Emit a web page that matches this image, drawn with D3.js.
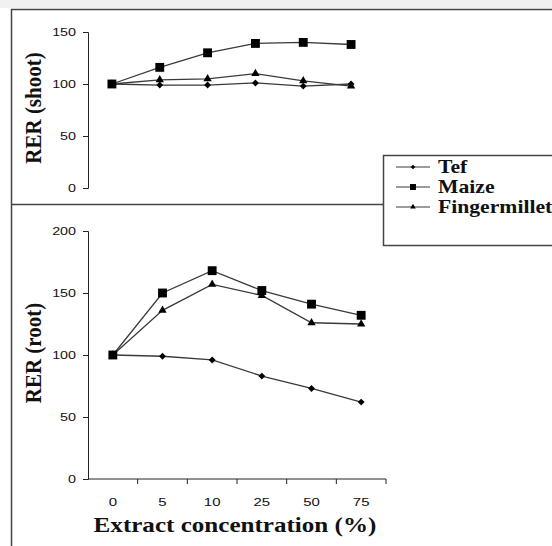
<!DOCTYPE html>
<html>
<head>
<meta charset="utf-8">
<script src="https://cdn.jsdelivr.net/npm/d3@7"></script>
<style>
  body { margin: 0; background: #fff; }
  svg { display: block; }
</style>
</head>
<body>
<svg width="552" height="546"></svg>
<script>
// DATA ////////////////////////////////////////////////////////////////////////
const concentrations = ['0', '5', '10', '25', '50', '75'];
const seriesNames = ['Tef', 'Maize', 'Fingermillet'];

const shootTef = [100, 99, 99, 101, 98, 100];
const shootMaize = [100, 116, 130, 139, 140, 138];
const shootFinger = [100, 104, 105, 110, 103, 98];

const rootTef = [100, 99, 96, 83, 73, 62];
const rootMaize = [100, 150, 168, 152, 141, 132];
const rootFinger = [100, 136, 157, 148, 126, 125];

const shootTicks = [0, 50, 100, 150];
const rootTicks = [0, 50, 100, 150, 200];

// SET PARAMETERS //////////////////////////////////////////////////////////////
const svg = d3.select('svg');
const symbols = {
  Tef: d3.symbolDiamond2,
  Maize: d3.symbolSquare2,
  Fingermillet: d3.symbolTriangle2
};
const symSize = { Tef: 30, Maize: 100, Fingermillet: 50 };
const lineColor = '#3a3a3a';
const serif = "'Liberation Serif', 'DejaVu Serif', serif";
const sans = "'Liberation Sans', Arial, sans-serif";
// the source picture is a bit stretched sideways
const stretch = 1.14;

// widen a text horizontally by k
function widen(sel, k) {
  sel.each(function() {
    const w = this.getComputedTextLength();
    d3.select(this)
      .attr('textLength', w * k)
      .attr('lengthAdjust', 'spacingAndGlyphs');
  });
}

// page frame
svg.append('rect').attr('x', 0).attr('y', 0).attr('width', 552).attr('height', 8)
  .attr('fill', '#f1f1f1');
svg.append('line').attr('x1', 11).attr('x2', 552).attr('y1', 9.5).attr('y2', 9.5)
  .attr('stroke', '#444').attr('stroke-width', 1.5);
svg.append('line').attr('x1', 11.5).attr('x2', 11.5).attr('y1', 9).attr('y2', 546)
  .attr('stroke', '#444').attr('stroke-width', 1.5);
svg.append('line').attr('x1', 11).attr('x2', 383).attr('y1', 204.5).attr('y2', 204.5)
  .attr('stroke', '#444').attr('stroke-width', 1.5);

// DRAW ///////////////////////////////////////////////////////////////////////
function panel(opts) {
  const x = d3.scaleBand().domain(concentrations).range(opts.xRange);
  const y = d3.scaleLinear().domain([0, opts.yMax]).range(opts.yRange);
  const g = svg.append('g');

  // y axis
  g.append('g')
    .attr('transform', `translate(${opts.xRange[0]},0)`)
    .call(d3.axisLeft(y).tickValues(opts.ticks).tickSize(5).tickPadding(7))
    .call(a => a.select('.domain').attr('stroke', '#222'))
    .call(a => a.selectAll('.tick line').attr('stroke', '#222'))
    .call(a => a.selectAll('text').style('font', `11px ${sans}`).attr('fill', '#111')
      .call(widen, 1.3));

  if (opts.xAxis) {
    const xa = g.append('g')
      .attr('transform', `translate(0,${opts.yRange[0]})`);
    xa.append('line')
      .attr('x1', opts.xRange[0]).attr('x2', opts.xRange[1])
      .attr('stroke', '#222');
    // ticks between categories (excel style)
    xa.selectAll('.tk')
      .data(concentrations)
      .enter()
      .append('line')
      .attr('x1', d => x(d) + x.bandwidth())
      .attr('x2', d => x(d) + x.bandwidth())
      .attr('y1', 0).attr('y2', 5)
      .attr('stroke', '#222');
    xa.selectAll('text')
      .data(concentrations)
      .enter()
      .append('text')
      .attr('x', d => x(d) + x.bandwidth() / 2)
      .attr('y', 27)
      .attr('text-anchor', 'middle')
      .style('font', `11.5px ${sans}`)
      .attr('fill', '#111')
      .text(d => d)
      .call(widen, 1.3);
  }

  const line = d3.line()
    .x((d, i) => x(concentrations[i]) + x.bandwidth() / 2)
    .y(d => y(d));

  opts.series.forEach(s => {
    g.append('path')
      .datum(s.values)
      .attr('fill', 'none')
      .attr('stroke', lineColor)
      .attr('stroke-width', 1.3)
      .attr('d', line);
  });
  opts.series.forEach(s => {
    g.selectAll(null)
      .data(s.values)
      .enter()
      .append('path')
      .attr('transform', (d, i) =>
        `translate(${x(concentrations[i]) + x.bandwidth() / 2},${y(d)})`)
      .attr('d', d3.symbol(symbols[s.name], symSize[s.name]))
      .attr('fill', '#000');
  });

  // y title
  g.append('text')
    .attr('transform',
      `translate(${opts.titleX},${opts.titleY}) rotate(-90) scale(1,${stretch})`)
    .attr('text-anchor', 'middle')
    .attr('dy', '0.35em')
    .style('font', `bold 21px ${serif}`)
    .attr('fill', '#111')
    .text(opts.title);
}

panel({
  xRange: [88, 375],
  yRange: [188, 32],
  yMax: 150,
  ticks: shootTicks,
  xAxis: false,
  title: 'RER (shoot)',
  titleX: 33,
  titleY: 108,
  series: [
    { name: 'Tef', values: shootTef },
    { name: 'Maize', values: shootMaize },
    { name: 'Fingermillet', values: shootFinger }
  ]
});

panel({
  xRange: [88, 386],
  yRange: [479, 231],
  yMax: 200,
  ticks: rootTicks,
  xAxis: true,
  title: 'RER (root)',
  titleX: 33,
  titleY: 353,
  series: [
    { name: 'Tef', values: rootTef },
    { name: 'Maize', values: rootMaize },
    { name: 'Fingermillet', values: rootFinger }
  ]
});

// x title
svg.append('text')
  .attr('x', 235)
  .attr('y', 532)
  .attr('text-anchor', 'middle')
  .style('font', `bold 22px ${serif}`)
  .attr('fill', '#111')
  .text('Extract concentration (%)')
  .call(widen, stretch);

// legend
const legend = svg.append('g');
legend.append('rect')
  .attr('x', 383.5).attr('y', 155.5)
  .attr('width', 180).attr('height', 90)
  .attr('fill', '#fff')
  .attr('stroke', '#444')
  .attr('stroke-width', 1.5);

const ly = d3.scalePoint().domain(seriesNames).range([167, 207]);
const li = legend.selectAll('.item')
  .data(seriesNames)
  .enter()
  .append('g')
  .attr('transform', d => `translate(0,${ly(d)})`);
li.append('line')
  .attr('x1', 396).attr('x2', 430)
  .attr('stroke', lineColor).attr('stroke-width', 1.2);
li.append('path')
  .attr('transform', 'translate(413,0)')
  .attr('d', d => d3.symbol(symbols[d], symSize[d] * 0.45)())
  .attr('fill', '#000');
li.append('text')
  .attr('x', 438)
  .attr('y', 6)
  .style('font', `bold 19px ${serif}`)
  .attr('fill', '#111')
  .text(d => d)
  .call(widen, stretch);
</script>
</body>
</html>
